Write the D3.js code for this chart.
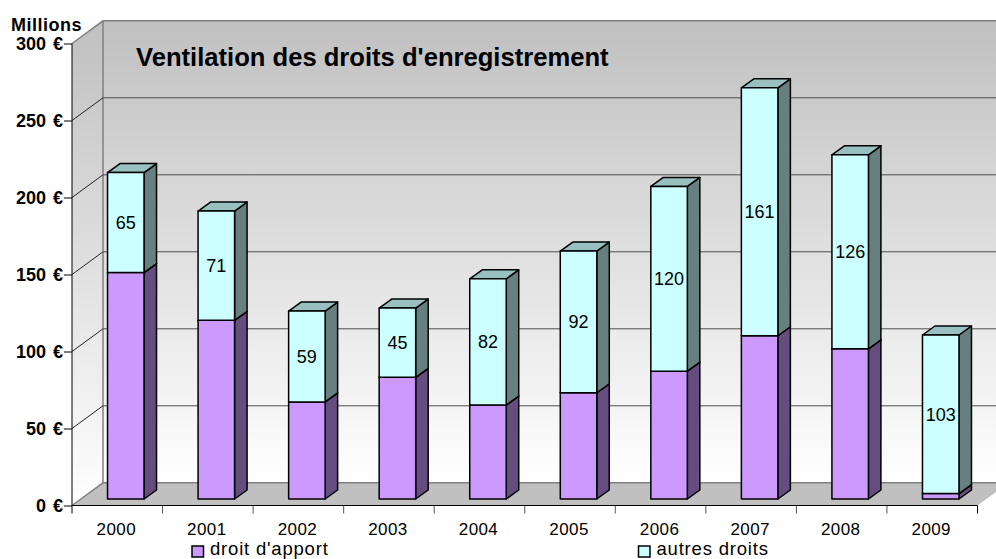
<!DOCTYPE html>
<meta charset="utf-8">
<style>
  html, body { margin: 0; background: #fff; overflow: hidden; }
  text { font-family: "Liberation Sans", Arial, sans-serif; fill: #000; }
  .ylabels text { font-size: 18px; font-weight: bold; word-spacing: 2px; }
  .xlabels text { font-size: 17px; letter-spacing: 0.4px; }
  .domain { display: none; }
</style>
<body>
<div id="chart"></div>
<script src="https://d3js.org/d3.v7.min.js"></script>
<script>
const years = ["2000", "2001", "2002", "2003", "2004", "2005", "2006", "2007", "2008", "2009"];
const droitApport = [147, 116, 63, 79, 61, 69, 83, 106, 97.5, 3.5];
const autresDroits = [65, 71, 59, 45, 82, 92, 120, 161, 126, 103];
const yTicks = [0, 50, 100, 150, 200, 250, 300];
const seriesNames = ["droit d'apport", "autres droits"];

const width = 996, height = 559;
const x0 = 72, x1 = 977.5, y0 = 505.5, y300 = 43.5;
// depth of the 3d box, and of a bar inside it
const depthX = 31, depthY = 22.7;
const barDX = 12.5, barDY = 9;
const barW = 36.5;

const x = d3.scaleBand().domain(years).range([x0, x1]);
const y = d3.scaleLinear().domain([0, 300]).range([y0, y300]);

const svg = d3.select("#chart").append("svg")
  .attr("width", width).attr("height", height)
  .style("display", "block");

const defs = svg.append("defs");
const grad = defs.append("linearGradient").attr("id", "wall")
  .attr("x1", 0).attr("x2", 0).attr("y1", 0).attr("y2", 1);
grad.append("stop").attr("offset", 0).attr("stop-color", "#c0c0c0");
grad.append("stop").attr("offset", 1).attr("stop-color", "#ffffff");

const poly = pts => pts.map(p => p.join(",")).join(" ");
const backL = x0 + depthX, backR = x1 + depthX;

// back wall, side wall, floor
svg.append("rect")
  .attr("x", backL).attr("y", y(300) - depthY)
  .attr("width", backR - backL).attr("height", y(0) - y(300))
  .attr("fill", "url(#wall)");
svg.append("polygon")
  .attr("points", poly([[x0, y(300)], [backL, y(300) - depthY], [backL, y(0) - depthY], [x0, y(0)]]))
  .attr("fill", "url(#wall)");
svg.append("polygon")
  .attr("points", poly([[x0, y(0)], [backL, y(0) - depthY], [backR, y(0) - depthY], [x1, y(0)]]))
  .attr("fill", "#c0c0c0");

// wall outlines
svg.append("path")
  .attr("d", `M${x0},${y(300)}L${backL},${y(300) - depthY}H${backR}M${backL},${y(300) - depthY}V${y(0) - depthY}M${x0},${y(0)}L${backL},${y(0) - depthY}H${backR}`)
  .attr("fill", "none").attr("stroke", "#808080").attr("stroke-width", 1.5);

// gridlines
const grid = svg.append("g");
yTicks.filter(t => t > 0 && t < 300).forEach(t => {
  grid.append("line")
    .attr("x1", backL).attr("x2", backR)
    .attr("y1", y(t) - depthY).attr("y2", y(t) - depthY)
    .attr("stroke", "#4d4d4d").attr("stroke-width", 1);
  grid.append("line")
    .attr("x1", x0).attr("x2", backL)
    .attr("y1", y(t)).attr("y2", y(t) - depthY)
    .attr("stroke", "#222").attr("stroke-width", 1);
});

// bars
const purple = { front: "#cc99ff", side: "#664d80", top: "#a37acc" };
const cyan = { front: "#ccffff", side: "#668080", top: "#99c0c0" };

function drawBox(g, xl, v0, v1, c) {
  const base = y(v0) - 6.5, top = y(v1) - 6.5;
  const xr = xl + barW;
  g.append("polygon")
    .attr("points", poly([[xr, base], [xr + barDX, base - barDY], [xr + barDX, top - barDY], [xr, top]]))
    .attr("fill", c.side);
  g.append("polygon")
    .attr("points", poly([[xl, top], [xl + barDX, top - barDY], [xr + barDX, top - barDY], [xr, top]]))
    .attr("fill", c.top);
  g.append("rect")
    .attr("x", xl).attr("y", top).attr("width", barW).attr("height", base - top)
    .attr("fill", c.front);
  g.selectAll("polygon, rect")
    .attr("stroke", "#000").attr("stroke-width", 1.5).attr("stroke-linejoin", "round");
}

const bars = svg.append("g");
years.forEach((yr, i) => {
  const xl = x(yr) + x.bandwidth() / 2 + 8.5 - barW / 2;
  const g = bars.append("g");
  drawBox(g, xl, 0, droitApport[i], purple);
  const total = droitApport[i] + autresDroits[i];
  drawBox(g, xl, droitApport[i], total, cyan);
  g.append("text")
    .attr("x", xl + barW / 2).attr("y", (y(droitApport[i]) + y(total)) / 2 - 6.5)
    .attr("dy", "0.35em").attr("text-anchor", "middle")
    .style("font-size", "18px")
    .text(autresDroits[i]);
});

// axes
const yAxis = d3.axisLeft(y).tickValues(yTicks).tickSize(8).tickPadding(1).tickFormat(d => d + " €");
const yG = svg.append("g").attr("class", "ylabels").attr("transform", `translate(${x0},0)`).call(yAxis);
yG.selectAll("line").attr("stroke", "#000");

const xAxis = d3.axisBottom(x).tickSize(0).tickPadding(17);
const xG = svg.append("g").attr("class", "xlabels").attr("transform", `translate(-1,${y0})`).call(xAxis);

// category boundary ticks
svg.append("g").selectAll("line")
  .data(years.concat("end"))
  .join("line")
  .attr("x1", (d, i) => x0 + i * x.step()).attr("x2", (d, i) => x0 + i * x.step())
  .attr("y1", y0).attr("y2", y0 + 8)
  .attr("stroke", (d, i) => i === 0 || i === years.length ? "#000" : "#555");

svg.append("line").attr("x1", x0).attr("x2", x0).attr("y1", y(300)).attr("y2", y0).attr("stroke", "#000");
svg.append("line").attr("x1", x0).attr("x2", x1).attr("y1", y0).attr("y2", y0).attr("stroke", "#000");

// titles
svg.append("text").attr("x", 136).attr("y", 66)
  .style("font-size", "25.6px").style("font-weight", "bold")
  .text("Ventilation des droits d'enregistrement");
svg.append("text").attr("x", 11).attr("y", 30.5)
  .style("font-size", "18px").style("font-weight", "bold").style("letter-spacing", "0.5px")
  .text("Millions");

// legend
const legendX = [192, 638.5];
seriesNames.forEach((name, i) => {
  svg.append("rect")
    .attr("x", legendX[i]).attr("y", 546).attr("width", 11.5).attr("height", 11)
    .attr("fill", i === 0 ? purple.front : cyan.front)
    .attr("stroke", "#000").attr("stroke-width", 1.5);
  svg.append("text")
    .attr("x", legendX[i] + 18).attr("y", 555)
    .style("font-size", "18.5px").style("letter-spacing", "0.8px")
    .text(name);
});
</script>
</body>
